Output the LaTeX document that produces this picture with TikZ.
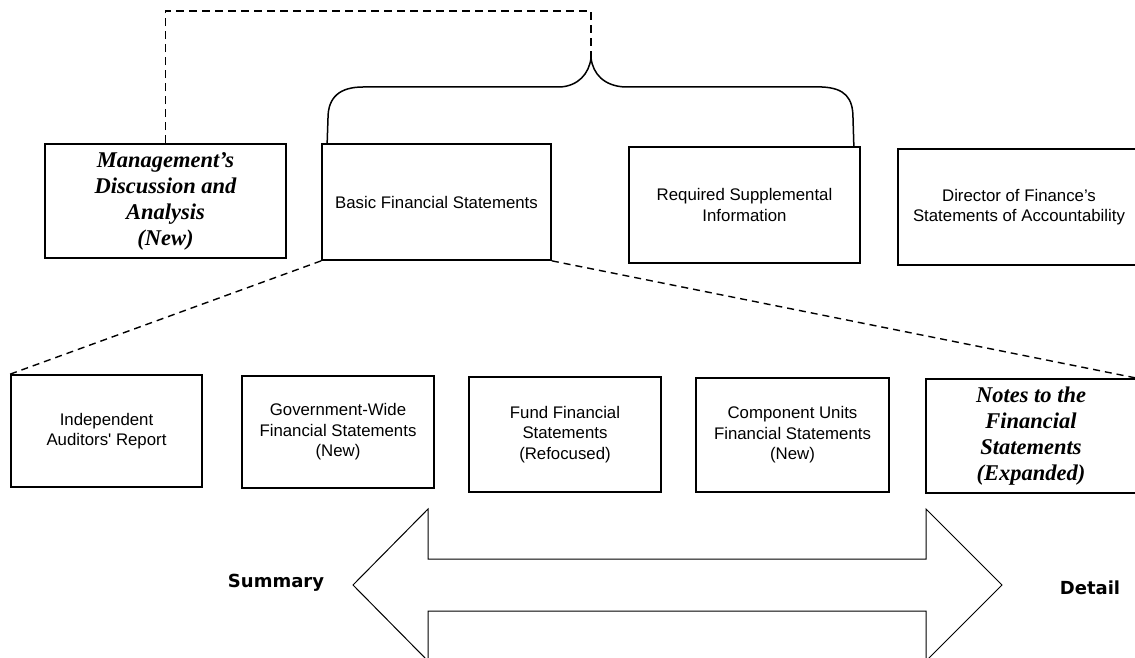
\documentclass[tikz,border=0pt]{standalone}
\usepackage{fontspec}
\usetikzlibrary{calc}
\newfontfamily\arialf{Liberation Sans}
\newfontfamily\fancyf{Liberation Serif}
\newfontfamily\tahf{DejaVu Sans}
\begin{document}
\begin{tikzpicture}[x=1pt,y=-1pt,
  box/.style={draw, line width=1.7pt, rectangle, inner sep=0pt, align=center},
  plain/.style={font=\arialf\fontsize{16.8}{20.5}\selectfont},
  fancy/.style={font=\fancyf\bfseries\itshape\fontsize{22.5}{26}\selectfont},
  dashline/.style={line width=1.5pt, dash pattern=on 8pt off 5pt},
  diagline/.style={line width=1.4pt, dash pattern=on 7pt off 5pt},
  bracel/.style={line width=1.5pt, line join=round},
  side/.style={font=\tahf\bfseries\fontsize{18}{22}\selectfont},
  bigarrow/.style={line width=1pt, line join=miter}]
\useasboundingbox (0,0) rectangle (1135,658);

% top row
\node[box,fancy,minimum width=241pt,minimum height=114pt] (mda) at (165.5,201)
  {Management’s\\Discussion and\\Analysis\\(New)};
\node[box,plain,minimum width=229pt,minimum height=116pt] (bfs) at (436.5,202)
  {Basic Financial Statements};
\node[box,plain,minimum width=231pt,minimum height=116pt] (rsi) at (744.5,205)
  {Required Supplemental\\Information};
\node[box,plain,minimum width=242pt,minimum height=116pt] (dir) at (1019,207)
  {Director of Finance’s\\Statements of Accountability};

% bottom row
\node[box,plain,minimum width=191pt,minimum height=112pt] (iar) at (106.5,431)
  {Independent\\Auditors' Report};
\node[box,plain,minimum width=192pt,minimum height=112pt] (gov) at (338,432)
  {Government-Wide\\Financial Statements\\(New)};
\node[box,plain,minimum width=192pt,minimum height=115pt] (fund) at (565,434.5)
  {Fund Financial\\Statements\\(Refocused)};
\node[box,plain,minimum width=193pt,minimum height=114pt] (cu) at (792.5,435)
  {Component Units\\Financial Statements\\(New)};
\node[box,fancy,minimum width=210pt,minimum height=114pt] (notes) at (1031,436)
  {Notes to the\\Financial\\Statements\\(Expanded)};

% brace over Basic Financial Statements and Required Supplemental Information
\coordinate (tip) at (591,58);
\draw[bracel] ($(bfs.north west)+(6,0)$) -- (328,118)
  .. controls (328,97) and (340,87) .. (363,87) -- (560,87)
  .. controls (578,86) and (589,74) .. (tip);
\draw[bracel] (tip) .. controls (593,74) and (604,86) .. (625,87) -- (822,87)
  .. controls (845,88) and (853,98) .. (853,118) -- ($(rsi.north east)+(-7,0)$);

% dashed link from MD&A to the brace
\draw[dashline] (mda.north) |- ($(tip)+(0,-47)$) -- (tip);

% dashed expansion lines
\draw[diagline] (bfs.south west) -- (iar.north west);
\draw[diagline] (bfs.south east) -- (notes.north east);

% double arrow
\draw[bigarrow] (353,585) -- (428,509) -- (428,559) -- (926,559) -- (926,509)
  -- (1002,585) -- (926,661) -- (926,611) -- (428,611) -- (428,661) -- cycle;
\node[side] (sum) at (276,583) {Summary};
\node[side] (det) at (1090,588) {Detail};
\end{tikzpicture}
\end{document}
